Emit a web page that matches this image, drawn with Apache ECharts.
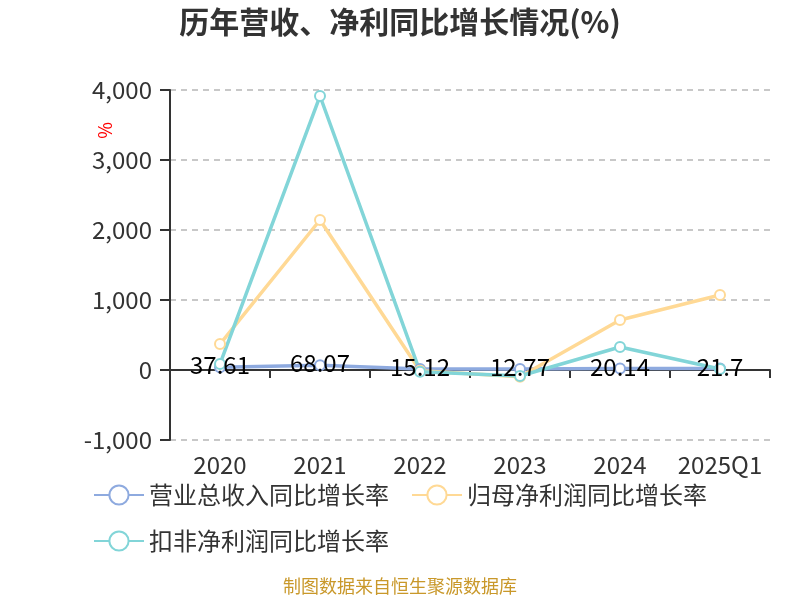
<!DOCTYPE html>
<html><head><meta charset="utf-8">
<script src="https://cdn.jsdelivr.net/npm/echarts@6/dist/echarts.min.js"></script>
<style>html,body{margin:0;padding:0;background:#fff}#c{width:800px;height:600px}</style>
</head><body><div id="c"></div>
<script>
var categories = ['2020','2021','2022','2023','2024','2025Q1'];
var revenueGrowth = [37.61, 68.07, 15.12, 12.77, 20.14, 21.7];
var netProfitGrowth = [371, 2143, -10, -95, 714, 1071];
var deductedProfitGrowth = [86, 3914, -24, -86, 329, 14];
var seriesNames = ['营业总收入同比增长率','归母净利润同比增长率','扣非净利润同比增长率'];
var yTicks = {min: -1000, max: 4000, interval: 1000};

var font = '"Noto Sans CJK SC", "Noto Sans", sans-serif';
var chart = echarts.init(document.getElementById('c'));
function ser(name, data, color, label) {
  return {
    name: name, type: 'line', data: data,
    symbol: 'emptyCircle', symbolSize: 10,
    lineStyle: {width: 3.5, color: color},
    itemStyle: {color: color, borderWidth: 2},
    label: label ? {show: true, position: 'inside', offset: [0, -2], color: '#000', fontSize: 24, fontFamily: font} : {show: false}
  };
}
chart.setOption({
  animation: false,
  textStyle: {fontFamily: font},
  title: {text: '历年营收、净利同比增长情况(%)', left: 'center', top: 2,
    textStyle: {fontSize: 30, fontWeight: 'bold', color: '#333', fontFamily: font}},
  grid: {left: 170, right: 30, top: 90, bottom: 160},
  legend: {left: 88, top: 478, itemWidth: 50, itemHeight: 24, itemGap: 22,
    width: 690,
    textStyle: {fontSize: 24, color: '#333', fontFamily: font},
    data: seriesNames},
  xAxis: {type: 'category', data: categories, boundaryGap: true,
    axisLine: {lineStyle: {color: '#333', width: 2}},
    axisTick: {show: true, length: 8, lineStyle: {color: '#333', width: 2}},
    axisLabel: {fontSize: 24, color: '#333', margin: 13, interval: 0}},
  yAxis: {type: 'value', min: yTicks.min, max: yTicks.max, interval: yTicks.interval,
    axisLine: {show: true, lineStyle: {color: '#333', width: 2}},
    axisTick: {show: true, length: 10, lineStyle: {color: '#333', width: 2}},
    axisLabel: {fontSize: 24, color: '#333', margin: 18,
      formatter: function(v){ return v.toLocaleString('en-US'); }},
    splitLine: {lineStyle: {type: [6, 5], color: '#c8c8c8', width: 2}}},
  graphic: [{type: 'text', left: 96, top: 122, rotation: -Math.PI/2,
    style: {text: '%', fill: '#ff0000', fontSize: 18, fontFamily: font}},
    {type: 'text', left: 'center', top: 577,
    style: {text: '制图数据来自恒生聚源数据库', fill: '#c9982a', fontSize: 18, fontFamily: font}}],
  series: [
    ser(seriesNames[0], revenueGrowth, '#8eaadf', true),
    ser(seriesNames[1], netProfitGrowth, '#ffd995', false),
    ser(seriesNames[2], deductedProfitGrowth, '#82d5d8', false)
  ]
});
</script></body></html>
